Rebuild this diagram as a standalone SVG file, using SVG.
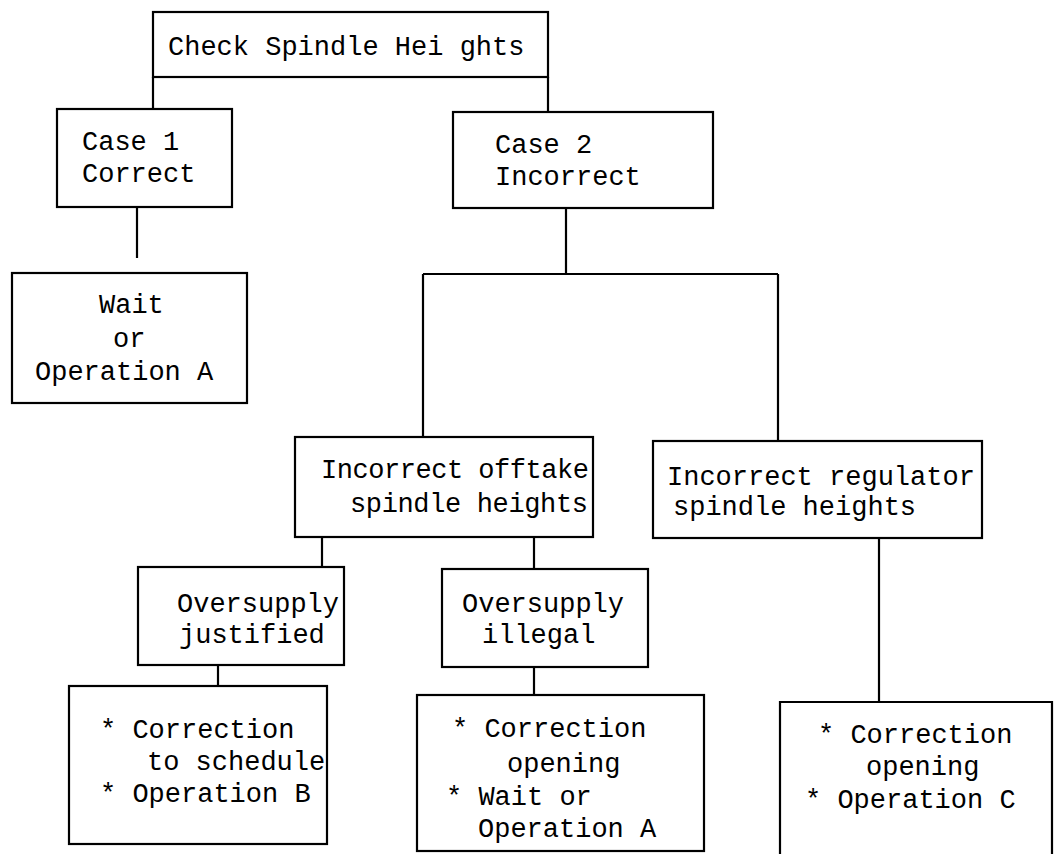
<svg xmlns="http://www.w3.org/2000/svg" width="1061" height="854" viewBox="0 0 1061 854">
<style>
.box{fill:#fff;stroke:#000;stroke-width:2.2}
.open{fill:none;stroke:#000;stroke-width:2.2}
.conn{fill:none;stroke:#000;stroke-width:2.2}
text{font-family:"Liberation Mono","DejaVu Sans Mono",monospace;font-size:27px;fill:#000}
</style>
<rect width="1061" height="854" fill="#fff"/>
<g id="connectors">
<path class="conn" d="M153 77V109"/>
<path class="conn" d="M548 77V112"/>
<path class="conn" d="M137 207V258"/>
<path class="conn" d="M566 208V274M423 274H778M423 274V437M778 274V441"/>
<path class="conn" d="M322 537V567"/>
<path class="conn" d="M534 537V569"/>
<path class="conn" d="M218 665V686"/>
<path class="conn" d="M534 667V695"/>
<path class="conn" d="M879 538V702"/>
</g>
<g id="check">
<rect class="box" x="153" y="12" width="395" height="65"/>
<text x="168" y="55">Check Spindle Hei ghts</text>
</g>
<g id="case1">
<rect class="box" x="57" y="109" width="175" height="98"/>
<text x="82" y="150">Case 1</text>
<text x="82" y="182">Correct</text>
</g>
<g id="case2">
<rect class="box" x="453" y="112" width="260" height="96"/>
<text x="495" y="153">Case 2</text>
<text x="495" y="185">Incorrect</text>
</g>
<g id="wait">
<rect class="box" x="12" y="273" width="235" height="130"/>
<text x="99" y="313">Wait</text>
<text x="113" y="347">or</text>
<text x="35" y="380">Operation A</text>
</g>
<g id="offtake">
<rect class="box" x="295" y="437" width="298" height="100"/>
<text x="321" y="478" textLength="268">Incorrect offtake</text>
<text x="350" y="512" textLength="238">spindle heights</text>
</g>
<g id="regulator">
<rect class="box" x="653" y="441" width="329" height="97"/>
<text x="667" y="485">Incorrect regulator</text>
<text x="673" y="515">spindle heights</text>
</g>
<g id="justified">
<rect class="box" x="138" y="567" width="206" height="98"/>
<text x="177" y="612">Oversupply</text>
<text x="179" y="643">justified</text>
</g>
<g id="illegal">
<rect class="box" x="442" y="569" width="206" height="98"/>
<text x="462" y="612">Oversupply</text>
<text x="482" y="643">illegal</text>
</g>
<g id="actionB">
<rect class="box" x="69" y="686" width="258" height="158"/>
<text x="100" y="738">* Correction</text>
<text x="147" y="770">to schedule</text>
<text x="100" y="802">* Operation B</text>
</g>
<g id="actionA">
<rect class="box" x="417" y="695" width="287" height="156"/>
<text x="452" y="737">* Correction</text>
<text x="507" y="772">opening</text>
<text x="446" y="805">* Wait or</text>
<text x="478" y="837">Operation A</text>
</g>
<g id="actionC">
<path class="open" d="M780 860V702H1052V860"/>
<text x="818" y="743">* Correction</text>
<text x="866" y="775">opening</text>
<text x="805" y="808">* Operation C</text>
</g>
</svg>
